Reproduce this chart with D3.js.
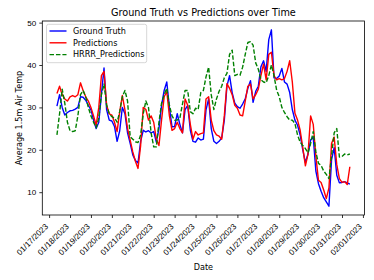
<!DOCTYPE html>
<html>
<head>
<meta charset="utf-8">
<script src="https://cdn.jsdelivr.net/npm/d3@7"></script>
<style>
  html, body { margin: 0; padding: 0; background: #fff; }
  svg { display: block; font-family: "DejaVu Sans", sans-serif; }
</style>
</head>
<body>
<svg id="chart" width="374" height="280"></svg>
<script>
// ---- data (3-hourly samples) ----
const startTime = "2023-01-17T09:00";
const stepHours = 3;

const groundTruth = [
  30.3,33.0,30.0,28.2,28.8,29.2,29.3,29.6,30.0,32.5,
  32.4,31.7,30.5,29.4,27.0,25.0,26.5,33.0,39.3,29.4,
  27.0,26.8,25.5,22.0,24.5,30.0,28.5,24.0,21.5,18.8,
  17.5,16.9,22.0,24.6,24.2,24.5,24.0,24.3,21.8,25.0,
  30.5,34.0,36.0,30.0,25.4,25.5,28.5,26.0,24.0,29.5,
  30.5,24.6,22.0,21.8,22.8,22.3,22.5,29.4,32.0,25.0,
  22.0,21.5,22.0,22.8,27.0,35.0,37.5,33.5,31.0,30.2,
  29.8,30.8,32.0,34.5,36.3,31.2,33.8,35.0,39.6,41.0,
  38.5,46.0,48.3,37.0,36.8,37.4,39.2,36.0,35.5,33.5,
  29.5,27.0,25.8,23.5,20.0,17.0,19.0,22.3,23.0,15.0,
  12.0,10.2,8.7,7.7,6.7,17.6,20.5,14.0,12.2,12.3,
  12.5,12.2,11.9
];

const predictions = [
  33.3,35.0,33.0,32.0,31.5,32.5,32.8,32.5,33.0,35.8,
  34.0,32.5,31.5,30.0,28.0,25.8,30.0,37.5,38.5,30.5,
  28.5,28.2,26.5,24.3,29.0,32.8,29.4,25.0,22.3,19.5,
  17.3,15.6,21.0,30.0,29.5,27.0,28.0,26.5,22.5,21.0,
  27.0,32.5,33.7,28.0,24.6,25.0,26.5,25.0,24.0,32.0,
  30.5,26.0,22.5,24.3,23.5,23.8,24.0,32.0,32.5,27.0,
  24.5,23.5,23.2,22.5,28.0,35.6,34.5,33.0,30.5,29.8,
  28.2,28.0,31.5,35.0,35.5,32.0,33.0,34.3,37.5,40.2,
  36.5,42.5,43.0,37.5,36.5,36.8,36.5,36.8,38.5,41.0,
  36.0,28.6,27.0,24.6,20.5,16.2,19.0,28.0,26.0,18.5,
  12.8,12.3,10.5,8.5,11.0,21.5,23.0,16.5,13.2,12.3,
  12.5,11.8,16.0
];

const hrrrPredictions = [
  23.5,28.5,34.3,31.0,26.5,24.5,24.3,24.5,28.0,33.0,
  34.0,32.5,30.0,28.0,26.5,25.2,27.5,33.0,35.5,30.5,
  28.5,27.8,27.5,26.5,29.0,32.5,34.0,31.5,23.1,22.5,
  21.9,21.7,23.5,28.5,31.5,30.0,24.0,20.7,20.7,26.5,
  31.0,33.0,34.5,30.5,28.0,27.0,27.0,27.5,30.8,34.0,
  34.0,29.0,28.5,29.8,29.5,33.5,34.0,37.2,39.5,33.0,
  29.5,32.0,33.8,35.0,37.0,38.0,42.5,43.5,37.5,37.8,
  37.6,39.5,42.5,45.3,45.5,44.7,40.5,39.0,36.5,36.0,
  35.8,37.5,40.0,37.5,34.1,32.5,30.0,28.8,27.8,27.0,
  27.0,26.2,23.5,21.8,21.0,20.3,19.3,21.5,24.3,19.5,
  16.8,16.3,15.0,14.2,13.2,18.5,24.0,25.0,18.3,18.4,
  19.0,18.8,19.0
];

const seriesNames = ["Ground Truth", "Predictions", "HRRR_Predictions"];
const seriesColors = ["#0000ff", "#ff0000", "#008000"];
const seriesDash = [null, null, "4.5,1.95"];

const xTickLabels = [
  "01/17/2023","01/18/2023","01/19/2023","01/20/2023","01/21/2023",
  "01/22/2023","01/23/2023","01/24/2023","01/25/2023","01/26/2023",
  "01/27/2023","01/28/2023","01/29/2023","01/30/2023","01/31/2023",
  "02/01/2023"
];
const yTicks = [10, 20, 30, 40, 50];

// ---- layout ----
const svg = d3.select("#chart");
const L = 42.3, R = 364.5, T = 21, B = 215;

const parseStart = d3.timeParse("%Y-%m-%dT%H:%M");
const parseTick = d3.timeParse("%m/%d/%Y");
const t0 = parseStart(startTime);
const times = groundTruth.map((_, i) => d3.timeHour.offset(t0, i * stepHours));

const tMin = times[0], tMax = times[times.length - 1];
const tPad = (tMax - tMin) * 0.05;
const x = d3.scaleTime()
  .domain([new Date(+tMin - tPad), new Date(+tMax + tPad)])
  .range([L, R]);

const all = groundTruth.concat(predictions, hrrrPredictions);
const vMin = d3.min(all), vMax = d3.max(all);
const vPad = (vMax - vMin) * 0.05;
const y = d3.scaleLinear().domain([vMin - vPad, vMax + vPad]).range([B, T]);

// lines
const allSeries = [groundTruth, predictions, hrrrPredictions];
const clip = svg.append("clipPath").attr("id", "clip")
  .append("rect").attr("x", L).attr("y", T).attr("width", R - L).attr("height", B - T);

const line = d3.line().x((d, i) => x(times[i])).y(d => y(d));
const g = svg.append("g").attr("clip-path", "url(#clip)");
allSeries.forEach((s, k) => {
  g.append("path")
    .datum(s)
    .attr("d", line)
    .attr("fill", "none")
    .attr("stroke", seriesColors[k])
    .attr("stroke-width", 1.4)
    .attr("stroke-linejoin", "round")
    .attr("stroke-dasharray", seriesDash[k]);
});

// frame
svg.append("rect")
  .attr("x", L).attr("y", T).attr("width", R - L).attr("height", B - T)
  .attr("fill", "none").attr("stroke", "#000").attr("stroke-width", 0.8);

// x axis
const xTickDates = xTickLabels.map(s => parseTick(s));
const xAxis = d3.axisBottom(x)
  .tickValues(xTickDates)
  .tickSize(3)
  .tickFormat((d, i) => xTickLabels[i]);
const gx = svg.append("g").attr("transform", `translate(0,${B})`).call(xAxis);
gx.select(".domain").remove();
gx.selectAll(".tick line").attr("stroke", "#000").attr("stroke-width", 0.8);
gx.selectAll(".tick text")
  .attr("font-size", 8.1)
  .attr("fill", "#000")
  .attr("text-anchor", "end")
  .attr("y", 0).attr("dy", "0.35em")
  .attr("transform", "translate(-3,10) rotate(-45)");

// y axis
const yAxis = d3.axisLeft(y).tickValues(yTicks).tickSize(3).tickPadding(3);
const gy = svg.append("g").attr("transform", `translate(${L},0)`).call(yAxis);
gy.select(".domain").remove();
gy.selectAll(".tick line").attr("stroke", "#000").attr("stroke-width", 0.8);
gy.selectAll(".tick text").attr("font-size", 8.1).attr("fill", "#000");

// title and labels
svg.append("text")
  .attr("x", (L + R) / 2).attr("y", 15.5)
  .attr("text-anchor", "middle")
  .attr("font-size", 9.7).attr("fill", "#000")
  .text("Ground Truth vs Predictions over Time");

svg.append("text")
  .attr("x", (L + R) / 2).attr("y", 270)
  .attr("text-anchor", "middle")
  .attr("font-size", 8.1).attr("fill", "#000")
  .text("Date");

svg.append("text")
  .attr("transform", `translate(22,${(T + B) / 2}) rotate(-90)`)
  .attr("text-anchor", "middle")
  .attr("font-size", 8.1).attr("fill", "#000")
  .text("Average 1.5m Air Temp");

// legend
const lg = svg.append("g");
lg.append("rect")
  .attr("x", 46.5).attr("y", 24.3).attr("width", 100.2).attr("height", 38.4)
  .attr("rx", 2).attr("ry", 2)
  .attr("fill", "#fff").attr("fill-opacity", 0.8)
  .attr("stroke", "#cccccc").attr("stroke-width", 0.8);
seriesNames.forEach((name, k) => {
  const yy = 31 + k * 11.8;
  lg.append("line")
    .attr("x1", 49.5).attr("x2", 66.5).attr("y1", yy).attr("y2", yy)
    .attr("stroke", seriesColors[k]).attr("stroke-width", 1.4)
    .attr("stroke-dasharray", seriesDash[k]);
  lg.append("text")
    .attr("x", 73).attr("y", yy).attr("dy", "0.35em")
    .attr("font-size", 8.1).attr("fill", "#000")
    .text(name);
});
</script>
</body>
</html>
